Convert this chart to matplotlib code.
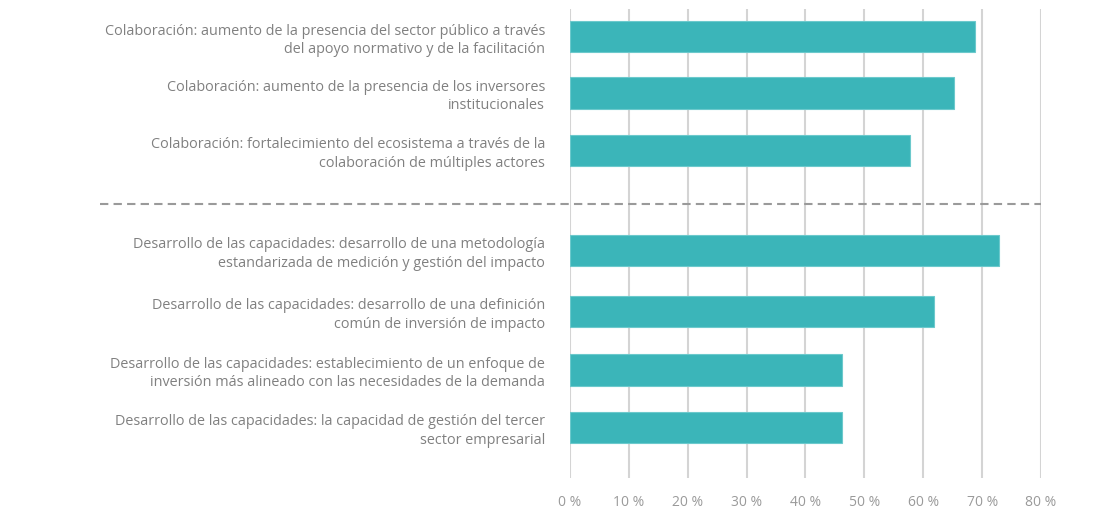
import matplotlib.pyplot as plt
import matplotlib.ticker as mticker

# Data
labels = [
    "Colaboración: aumento de la presencia del sector público a través\ndel apoyo normativo y de la facilitación",
    "Colaboración: aumento de la presencia de los inversores\ninstitucionales",
    "Colaboración: fortalecimiento del ecosistema a través de la\ncolaboración de múltiples actores",
    "Desarrollo de las capacidades: desarrollo de una metodología\nestandarizada de medición y gestión del impacto",
    "Desarrollo de las capacidades: desarrollo de una definición\ncomún de inversión de impacto",
    "Desarrollo de las capacidades: establecimiento de un enfoque de\ninversión más alineado con las necesidades de la demanda",
    "Desarrollo de las capacidades: la capacidad de gestión del tercer\nsector empresarial",
]
values = [68.8, 65.3, 57.7, 72.9, 61.8, 46.2, 46.2]
xticks = [0, 10, 20, 30, 40, 50, 60, 70, 80]

# Layout (row positions, with a gap between the two groups)
positions = [0, 0.98, 1.98, 3.72, 4.78, 5.8, 6.8]
separator_y = 2.91

bar_color = "#3bb5b9"
grid_color = "#d4d4d4"
text_color = "#808080"

plt.rcParams['font.family'] = ['Open Sans', 'DejaVu Sans']

fig = plt.figure(figsize=(10.95, 5.23), dpi=100)
ax = fig.add_axes([0.5205, 0.086, 0.4302, 0.8968])

ax.barh(positions, values, height=0.55, color=bar_color,
        edgecolor="#6cc9cc", linewidth=0.8, zorder=3)

ax.set_xlim(0, 80)
ax.set_ylim(7.68, -0.48)
ax.set_xticks(xticks)
ax.xaxis.set_major_formatter(mticker.FuncFormatter(lambda v, p: f"{int(v)} %"))
ax.grid(axis='x', color=grid_color, linewidth=1.5, zorder=0)
ax.set_axisbelow(True)

ax.set_yticks(positions)
ax.set_yticklabels(labels, fontsize=10.4, color=text_color,
                   linespacing=1.3, multialignment='right')
ax.tick_params(axis='y', length=0, pad=18)
ax.tick_params(axis='x', length=0, pad=12, labelsize=10, labelcolor="#9a9a9a")

for s in ax.spines.values():
    s.set_visible(False)

# dashed separator between the two groups
ax.plot([-0.998, 1.0], [separator_y, separator_y], transform=ax.get_yaxis_transform(),
        color="#9a9a9a", linestyle=(0, (4, 2.5)), linewidth=1.5, clip_on=False, zorder=4)

plt.savefig("out.png", dpi=100)
